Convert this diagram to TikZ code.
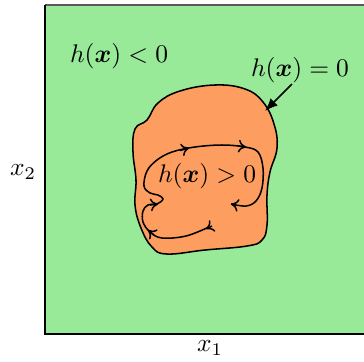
\documentclass[tikz,border=0pt]{standalone}
\usepackage{amsmath,amssymb,bm}
\usetikzlibrary{arrows.meta}
\definecolor{bggreen}{RGB}{152,233,152}
\definecolor{blobor}{RGB}{253,158,96}
\begin{document}
\begin{tikzpicture}[x=0.3926pt,y=-0.3926pt,
  lbl/.style={inner sep=0pt},
  traj/.style={line width=0.6pt},
  tip/.style={line width=0.6pt,-{To[length=3pt,width=5pt]}}]
\useasboundingbox (0,0) rectangle (364,361);
\clip (0,0) rectangle (364,361);
% background region
\fill[bggreen] (45,5) rectangle (370,334);
\draw[line width=0.5pt,black!65] (45,5) -- (370,5);
\draw[line width=0.6pt] (45,5) -- (45,334) -- (370,334);
% blob
\draw[fill=blobor,line width=0.6pt] plot[smooth cycle,tension=0.7] coordinates {
 (147,120) (158,103) (180,91) (215,85) (245,89) (263,102) (274,124) (277,148)
 (270,172) (267,195) (267,225) (262,240) (247,246) (205,250) (167,254)
 (152,247) (141,228) (135,205) (136,180) (133,152) (135,129)};
% trajectory
\draw[traj] plot[smooth,tension=0.6] coordinates {
 (209,227) (186,236) (162,238) (150,232) (143,222) (143,211) (148,205) (157,204)
 (163,199) (158,195) (150,193) (144,186) (147,171) (157,160) (172,152) (195,147)
 (222,145) (245,147) (258,152) (263,168) (262,188) (256,201) (246,206) (231,204)};
% arrow marks along the trajectory
\coordinate (t1a) at (212,226); \coordinate (t1b) at (206,229);
\coordinate (t2a) at (154,235); \coordinate (t2b) at (148,230);
\coordinate (t3a) at (150,205); \coordinate (t3b) at (158,204);
\coordinate (t4a) at (180,150.5); \coordinate (t4b) at (189,148);
\coordinate (t5a) at (238,146); \coordinate (t5b) at (246,147);
\coordinate (t6a) at (236,205); \coordinate (t6b) at (231,204);
\draw[tip] (t1a) -- (t1b);
\draw[tip] (t2a) -- (t2b);
\draw[tip] (t3a) -- (t3b);
\draw[tip] (t4a) -- (t4b);
\draw[tip] (t5a) -- (t5b);
\draw[tip] (t6a) -- (t6b);
% labels
\node[lbl] (neg) at (119,56) {$h(\bm{x})<0$};
\node[lbl] (zero) at (300,70) {$h(\bm{x})=0$};
\node[lbl] (pos) at (207,176) {$h(\bm{x})>0$};
\node[lbl] (x1) at (210,348) {$x_1$};
\node[lbl] (x2) at (23,172) {$x_2$};
\coordinate (zs) at (292,84);
\coordinate (bnd) at (265,111);
\draw[line width=0.6pt,-{Latex[length=5pt,width=4pt]}] (zs) -- (bnd);
\end{tikzpicture}
\end{document}
